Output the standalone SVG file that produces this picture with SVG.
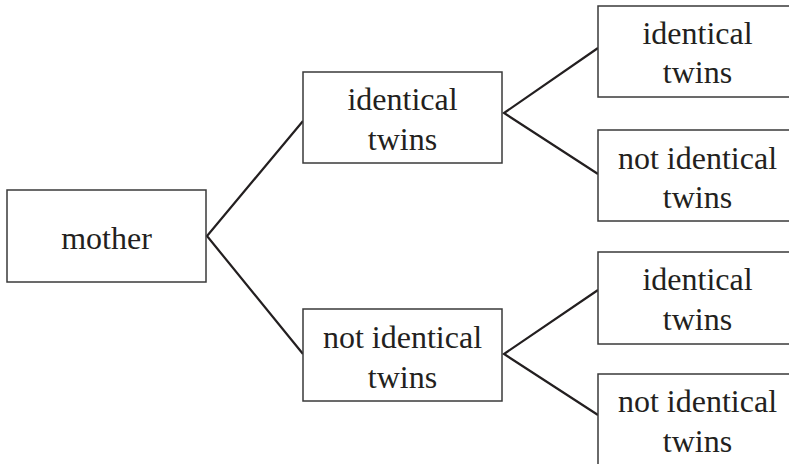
<svg xmlns="http://www.w3.org/2000/svg" width="789" height="464" viewBox="0 0 789 464">
<style>
.box{fill:#fff;stroke:#3a3a3a;stroke-width:1.5}
.t{font-family:"Liberation Serif","Times New Roman",serif;font-size:32px;fill:#231f20;text-anchor:middle}
.c{fill:none;stroke:#231f20;stroke-width:2.2;stroke-linejoin:miter}
</style>
<rect width="789" height="464" fill="#fff"/>
<g id="connectors">
<polyline class="c" points="303,121 207,236 303,354"/>
<polyline class="c" points="598,48 504,113 598,174"/>
<polyline class="c" points="598,290 504,354 598,415"/>
</g>
<g id="mother">
<rect class="box" x="7" y="190" width="199" height="92"/>
<text class="t" x="106.5" y="249">mother</text>
</g>
<g id="mid-identical">
<rect class="box" x="303" y="72" width="199" height="91"/>
<text class="t" x="402.5" y="110">identical</text>
<text class="t" x="402.5" y="150">twins</text>
</g>
<g id="mid-not-identical">
<rect class="box" x="303" y="309" width="199" height="92"/>
<text class="t" x="402.5" y="348">not identical</text>
<text class="t" x="402.5" y="388">twins</text>
</g>
<g id="r1-identical">
<rect class="box" x="598" y="6" width="199" height="91"/>
<text class="t" x="697.5" y="44">identical</text>
<text class="t" x="697.5" y="83">twins</text>
</g>
<g id="r2-not-identical">
<rect class="box" x="598" y="130" width="199" height="91"/>
<text class="t" x="697.5" y="169">not identical</text>
<text class="t" x="697.5" y="208">twins</text>
</g>
<g id="r3-identical">
<rect class="box" x="598" y="252" width="199" height="92"/>
<text class="t" x="697.5" y="290">identical</text>
<text class="t" x="697.5" y="330">twins</text>
</g>
<g id="r4-not-identical">
<rect class="box" x="598" y="374" width="199" height="92"/>
<text class="t" x="697.5" y="412">not identical</text>
<text class="t" x="697.5" y="452">twins</text>
</g>
</svg>
